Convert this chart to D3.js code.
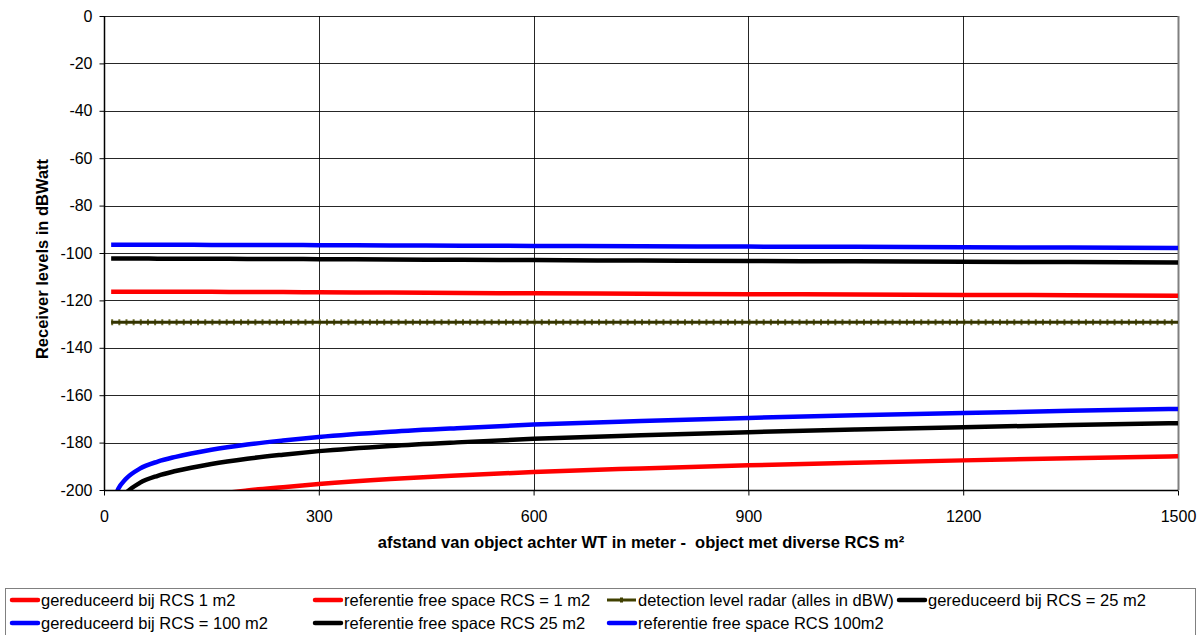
<!DOCTYPE html>
<html><head><meta charset="utf-8">
<script src="https://cdn.jsdelivr.net/npm/d3@7"></script>
<style>body{margin:0;background:#fff;} text{font-family:"Liberation Sans",Arial,sans-serif;}</style>
</head><body><svg id="c" width="1204" height="635"></svg>
<script>
// distances (m)
const distances = [10, 20, 30, 50, 75, 100, 150, 200, 250, 300, 400, 500, 600, 750, 900, 1050, 1200, 1350, 1500];
// free-space reference curves (dBW)
const refRCS1   = [-228, -219.5, -215.5, -211, -208, -205.5, -202.2, -200.2, -198.8, -197.5, -195.4, -193.8, -192.4, -190.9, -189.6, -188.5, -187.5, -186.6, -185.8];
const refRCS25  = [-214, -205.5, -201.5, -197, -194, -192, -189, -186.8, -185.1, -183.6, -181.4, -179.8, -178.4, -176.9, -175.6, -174.5, -173.5, -172.6, -171.8];
const refRCS100 = [-208, -199.5, -195.5, -191, -188, -186, -183, -180.8, -179.1, -177.6, -175.4, -173.8, -172.4, -170.9, -169.6, -168.5, -167.5, -166.6, -165.8];
// reduced levels (dBW)
const redRCS1   = [-116.3, -116.3, -116.3, -116.3, -116.4, -116.4, -116.4, -116.5, -116.5, -116.6, -116.7, -116.9, -117.0, -117.2, -117.4, -117.5, -117.7, -117.8, -118.0];
const redRCS25  = [-102.3, -102.3, -102.3, -102.3, -102.4, -102.4, -102.4, -102.5, -102.5, -102.6, -102.7, -102.9, -103.0, -103.2, -103.4, -103.5, -103.7, -103.8, -104.0];
const redRCS100 = [-96.5, -96.5, -96.5, -96.5, -96.5, -96.5, -96.6, -96.6, -96.6, -96.7, -96.8, -96.9, -97.0, -97.2, -97.3, -97.4, -97.6, -97.7, -97.9];
const detection = [-129.2, -129.2, -129.2, -129.2, -129.2, -129.2, -129.2, -129.2, -129.2, -129.2, -129.2, -129.2, -129.2, -129.2, -129.2, -129.2, -129.2, -129.2, -129.2];

const xTicks = [0, 300, 600, 900, 1200, 1500];
const yTicks = [0, -20, -40, -60, -80, -100, -120, -140, -160, -180, -200];

const seriesNames = ["gereduceerd bij RCS 1 m2", "referentie free space RCS = 1 m2", "detection level radar (alles in dBW)",
  "gereduceerd bij RCS = 25 m2", "gereduceerd bij RCS = 100 m2", "referentie free space RCS 25 m2", "referentie free space RCS 100m2"];
const seriesData = [redRCS1, refRCS1, detection, redRCS25, redRCS100, refRCS25, refRCS100];
const seriesColors = ["#ff0000", "#ff0000", "#333300", "#000000", "#0000ff", "#000000", "#0000ff"];

const svg = d3.select("#c");
const L = 104, R = 1178, T = 16, B = 490;
const x = d3.scaleLinear().domain([0, 1500]).range([L, R]);
const y = d3.scaleLinear().domain([-200, 0]).range([B, T]);

// grid
const g = svg.append("g");
g.selectAll(".hg").data(yTicks).join("line")
  .attr("x1", L).attr("x2", R).attr("y1", d => Math.round(y(d)) + 0.5).attr("y2", d => Math.round(y(d)) + 0.5)
  .attr("stroke", "#000").attr("stroke-width", 1).attr("stroke-opacity", 0.85);
g.selectAll(".vg").data(xTicks.slice(1, -1)).join("line")
  .attr("y1", T).attr("y2", B).attr("x1", d => Math.round(x(d)) + 0.5).attr("x2", d => Math.round(x(d)) + 0.5)
  .attr("stroke", "#000").attr("stroke-width", 1).attr("stroke-opacity", 0.85);
// right border
svg.append("line").attr("x1", R + 0.5).attr("x2", R + 0.5).attr("y1", T).attr("y2", B)
  .attr("stroke", "#808080").attr("stroke-width", 2);

// clip
svg.append("clipPath").attr("id", "clip").append("rect").attr("x", L).attr("y", T - 5).attr("width", R - L + 4).attr("height", B - T + 5);

const line = d3.line().x((d, i) => x(distances[i])).y(d => y(d)).curve(d3.curveMonotoneX);
const plot = svg.append("g").attr("clip-path", "url(#clip)");

const order = [2, 1, 5, 6, 0, 3, 4];
order.forEach(k => {
  if (k === 2) {
    plot.append("path").attr("d", line(seriesData[k])).attr("fill", "none")
      .attr("stroke", "#6b6b2a").attr("stroke-width", 6).attr("stroke-dasharray", "2 5.16");
    plot.append("path").attr("d", line(seriesData[k])).attr("fill", "none")
      .attr("stroke", "#333300").attr("stroke-width", 3);
  } else {
    plot.append("path").attr("d", line(seriesData[k])).attr("fill", "none")
      .attr("stroke", seriesColors[k]).attr("stroke-width", 4.5).attr("stroke-linejoin", "round");
  }
});

// axes
const fmt = d => String(d);
const yAxis = d3.axisLeft(y).tickValues(yTicks).tickSize(5).tickFormat(fmt);
const ya = svg.append("g").attr("transform", `translate(${L + 0.5},0)`).call(yAxis);
ya.select(".domain").attr("stroke", "#000").attr("stroke-width", 1.5).attr("d", `M0,${T}V${B}`);
ya.selectAll(".tick text").attr("font-size", 16).attr("fill", "#000").attr("x", -12).attr("font-family", "Liberation Sans, Arial, sans-serif");
ya.selectAll(".tick line").attr("stroke", "#000");

const xAxis = d3.axisBottom(x).tickValues(xTicks).tickSize(5).tickFormat(fmt);
const xa = svg.append("g").attr("transform", `translate(0,${B + 0.5})`).call(xAxis);
xa.select(".domain").attr("stroke", "#000").attr("stroke-width", 1.5).attr("d", `M${L},0H${R}`);
xa.selectAll(".tick text").attr("font-size", 16).attr("fill", "#000").attr("y", 20).attr("font-family", "Liberation Sans, Arial, sans-serif");
xa.selectAll(".tick line").attr("stroke", "#000");

// axis titles
svg.append("text").attr("x", 641).attr("y", 548).attr("text-anchor", "middle")
  .attr("font-size", 16.5).attr("font-weight", "bold").text("afstand van object achter WT in meter -  object met diverse RCS m²").style("white-space", "pre");
svg.append("text").attr("transform", "translate(48,259) rotate(-90)").attr("text-anchor", "middle")
  .attr("font-size", 16.5).attr("font-weight", "bold").text("Receiver levels in dBWatt");

// legend
svg.append("rect").attr("x", 5.5).attr("y", 588.5).attr("width", 1190).attr("height", 60)
  .attr("fill", "#fff").attr("stroke", "#808080").attr("stroke-width", 1);
const legPos = [[10, 600], [313, 600], [607, 600], [897, 600], [10, 623], [313, 623], [607, 623]];
seriesNames.forEach((name, k) => {
  const [lx, ly] = legPos[k];
  const lg = svg.append("g");
  if (k === 2) {
    lg.append("line").attr("x1", lx).attr("x2", lx + 29).attr("y1", ly).attr("y2", ly)
      .attr("stroke", "#404000").attr("stroke-width", 3);
    lg.append("rect").attr("x", lx + 13).attr("y", ly - 2.5).attr("width", 3).attr("height", 5).attr("fill", "#404000");
  } else {
    lg.append("line").attr("x1", lx + 2).attr("x2", lx + 28).attr("y1", ly).attr("y2", ly)
      .attr("stroke", seriesColors[k]).attr("stroke-width", 4.5).attr("stroke-linecap", "round");
  }
  lg.append("text").attr("x", lx + 31).attr("y", ly + 5.5).attr("font-size", 16.5).attr("fill", "#000").text(name);
});
</script></body></html>
